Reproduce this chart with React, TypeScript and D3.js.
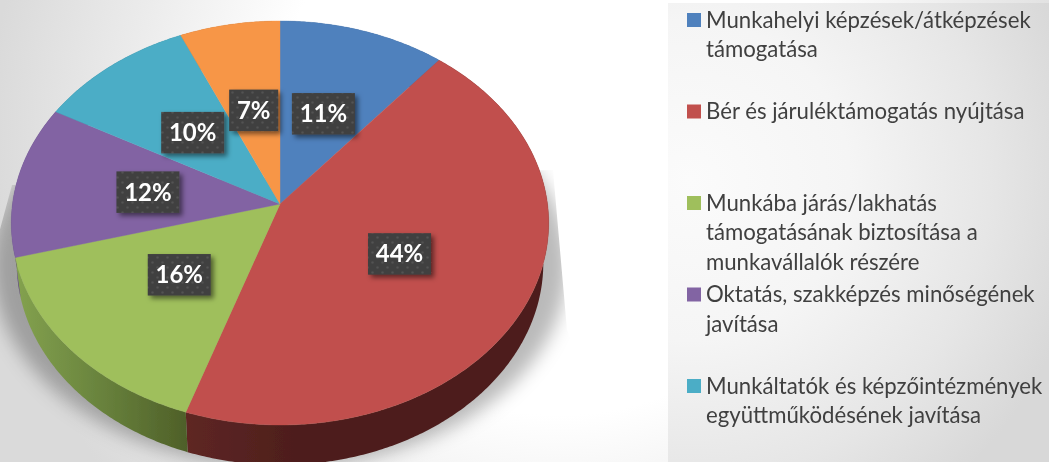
import React from "react";
import * as d3 from "d3";

const sliceNames = ["Munkahelyi", "Bér", "Munkába", "Oktatás", "Munkáltatók", "Egyéb"];
const sliceValues = [11, 44.2, 15.6, 12.2, 10.4, 6.6];
const sliceColors = ["#4f81bd", "#c1504d", "#9fbf5c", "#8264a3", "#4badc6", "#f79646"];
const legendLines = [
  ["Munkahelyi képzések/átképzések", "támogatása"],
  ["Bér és járuléktámogatás nyújtása"],
  ["Munkába járás/lakhatás", "támogatásának biztosítása a", "munkavállalók részére"],
  ["Oktatás, szakképzés minőségének", "javítása"],
  ["Munkáltatók és képzőintézmények", "együttműködésének javítása"],
];

const W = 1049;
const H = 462;
const apexX = 280;
const apexY = 204;
const radiusX = 267.5;
const radiusY = 200.2;
const tilt = -0.094;
const depth = 40;
const bottomScale = 0.98;

// perspective view of the unit disc: angle clockwise from 12 o'clock
const project = (a: number, r = 1): [number, number] => {
  const u = r * Math.sin(a);
  const v = -r * Math.cos(a);
  const d = 1 + tilt * v;
  return [apexX + (radiusX * u) / d, apexY + (radiusY * v) / d];
};
const projectBottom = (a: number, scale = bottomScale, dy = depth): [number, number] => {
  const [x, y] = project(a);
  return [apexX + (x - apexX) * scale, y + dy];
};

const pieGen = d3.pie<number>().sort(null).value((d) => d);
const arcs = pieGen(sliceValues);
const angles = (s: number, e: number) => {
  const n = Math.max(2, Math.ceil((e - s) / 0.01));
  return d3.range(n + 1).map((i) => s + ((e - s) * i) / n);
};
const line = d3.line();
const topPath = (s: number, e: number) =>
  line([[apexX, apexY], ...angles(s, e).map((a) => project(a))]) + "Z";
const wallPath = (s: number, e: number) => {
  const as = angles(s, e);
  return line([...as.map((a) => project(a)), ...as.slice().reverse().map((a) => projectBottom(a))]) + "Z";
};
const shadowPath = line(angles(0, Math.PI * 2).map((a) => projectBottom(a, 1.07, 42))) + "Z";

const legendY = d3.scalePoint<number>().domain(d3.range(legendLines.length)).range([20, 386]);
const FONT = "Lato, 'Open Sans', sans-serif";
const pct = d3.format(".0f");

const wallFills = ["#3a5a85", "url(#wallRed)", "url(#wallGreen)", "#5b4675", "#35788a", "#ad6931"];

export default function App() {
  return (
    <svg width={W} height={H} viewBox={`0 0 ${W} ${H}`} style={{ position: "absolute", left: 0, top: 0, display: "block" }}>
      <defs>
        <radialGradient id="bg" gradientUnits="userSpaceOnUse" cx={560} cy={130} r={570}>
          <stop offset="0.5" stopColor="#ffffff" />
          <stop offset="0.75" stopColor="#ececec" />
          <stop offset="1" stopColor="#dadada" />
        </radialGradient>
        <radialGradient id="panel" gradientUnits="userSpaceOnUse" cx={690} cy={180} r={400}>
          <stop offset="0" stopColor="#fbfbfb" />
          <stop offset="0.4" stopColor="#f5f5f5" />
          <stop offset="0.75" stopColor="#e6e6e6" />
          <stop offset="1" stopColor="#d8d8d8" />
        </radialGradient>
        <linearGradient id="wallGreen" gradientUnits="userSpaceOnUse" x1={20} x2={188} y1={0} y2={0}>
          <stop offset="0" stopColor="#82a04e" />
          <stop offset="0.4" stopColor="#6d8840" />
          <stop offset="1" stopColor="#4e5f28" />
        </linearGradient>
        <linearGradient id="wallRed" gradientUnits="userSpaceOnUse" x1={188} x2={300} y1={0} y2={0}>
          <stop offset="0" stopColor="#5e2624" />
          <stop offset="1" stopColor="#4d1e1c" />
        </linearGradient>
        <filter id="blur" x="-20%" y="-20%" width="140%" height="140%">
          <feGaussianBlur stdDeviation="9" />
        </filter>
        <filter id="soft" x="-2%" y="-2%" width="104%" height="104%">
          <feGaussianBlur stdDeviation="0.5" />
        </filter>
        <filter id="softText" x="-5%" y="-20%" width="110%" height="140%">
          <feGaussianBlur stdDeviation="0.3" />
        </filter>
        <filter id="labelShadow" x="-20%" y="-20%" width="150%" height="160%">
          <feDropShadow dx="3" dy="3" stdDeviation="2.5" floodColor="#000" floodOpacity="0.5" />
        </filter>
        <pattern id="dots" patternUnits="userSpaceOnUse" width="10" height="10">
          <rect width="10" height="10" fill="#3f3f3f" />
          <circle cx="2.5" cy="2.5" r="1.3" fill="#525252" />
          <circle cx="7.5" cy="7.5" r="1.3" fill="#525252" />
        </pattern>
        <clipPath id="shadowClip">
          <path d="M12 185 L-30 340 L-30 470 L620 470 L567 330 L553 170 Z" />
        </clipPath>
      </defs>

      <rect width={W} height={H} fill="url(#bg)" />
      <rect x={668} y={3} width={W - 668} height={H - 3} fill="url(#panel)" />

      <g clipPath="url(#shadowClip)">
        <path d={shadowPath} fill="#000" fillOpacity={0.27} filter="url(#blur)" />
      </g>

      <g filter="url(#soft)">
        {arcs.map((d, i) => (
          <path key={"w" + sliceNames[i]} d={wallPath(d.startAngle, d.endAngle)} fill={wallFills[i]} />
        ))}
        {arcs.map((d, i) => (
          <path
            key={"t" + sliceNames[i]}
            d={topPath(d.startAngle, d.endAngle)}
            fill={sliceColors[i]}
            stroke={sliceColors[i]}
            strokeWidth={0.4}
          />
        ))}
      </g>

      {arcs.map((d, i) => {
        const [cx, cy] = project((d.startAngle + d.endAngle) / 2, 0.5);
        const label = `${pct(d.value)}%`;
        const w = label.length > 2 ? 63 : 49;
        const h = 41.5;
        return (
          <g key={"l" + sliceNames[i]}>
            <rect x={cx - w / 2} y={cy - h / 2} width={w} height={h} fill="url(#dots)" filter="url(#labelShadow)" />
            <text
              x={cx}
              y={cy + 8.5}
              textAnchor="middle"
              fill="#ffffff"
              fontFamily={FONT}
              fontWeight={700}
              fontSize={24}
              filter="url(#softText)"
            >
              {label}
            </text>
          </g>
        );
      })}

      {legendLines.map((lines, i) => {
        const y = legendY(i) as number;
        return (
          <g key={lines[0]}>
            <rect x={687} y={y - 7} width={14} height={14} fill={sliceColors[i]} />
            {lines.map((t, j) => (
              <text
                key={t}
                x={706}
                y={y + 7.5 + j * 29.5}
                fill="#404040"
                fontFamily={FONT}
                fontSize={22.2}
                filter="url(#softText)"
              >
                {t}
              </text>
            ))}
          </g>
        );
      })}
    </svg>
  );
}
